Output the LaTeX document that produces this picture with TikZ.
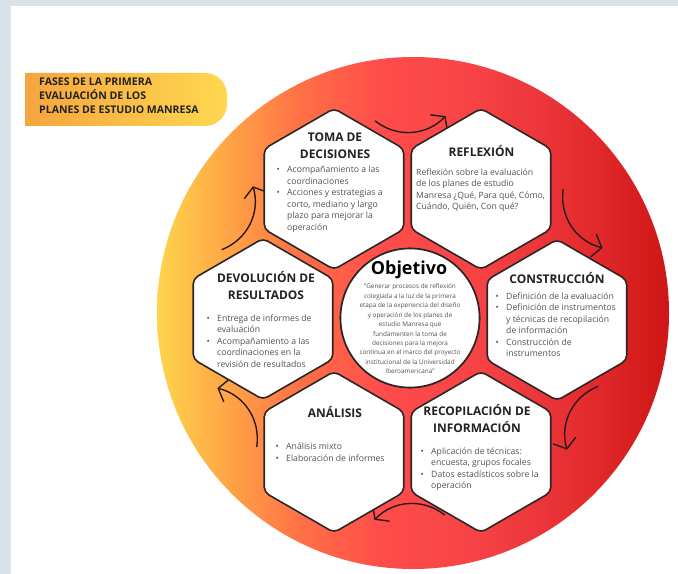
\documentclass[tikz,border=0pt]{standalone}
\usepackage{fontspec}
\setmainfont{Open Sans}
\usetikzlibrary{shapes.geometric,arrows.meta,calc}
\definecolor{bgband}{HTML}{DAE2E9}
\definecolor{g0}{HTML}{FFD54C}
\definecolor{g1}{HTML}{FFA446}
\definecolor{g2}{HTML}{FF7046}
\definecolor{g3}{HTML}{FF4D4B}
\definecolor{g4}{HTML}{F64245}
\definecolor{g5}{HTML}{E52D30}
\definecolor{g6}{HTML}{CE1616}
\definecolor{lab1}{HTML}{F59A3A}
\definecolor{lab2}{HTML}{FFD750}
\definecolor{edgec}{HTML}{2D2626}
\definecolor{arrc}{HTML}{2B1A1A}
\definecolor{ttlc}{HTML}{222222}
\definecolor{bodyc}{HTML}{525252}
\pgfdeclarehorizontalshading{ringsh}{100bp}{color(0bp)=(g0); color(25bp)=(g0); color(32bp)=(g1); color(39bp)=(g2); color(46.8bp)=(g3); color(56.6bp)=(g4); color(66.4bp)=(g5); color(75bp)=(g6); color(100bp)=(g6)}
\newcommand\ctab[1]{\begin{tabular}[t]{@{}c@{}}#1\end{tabular}}
\newcommand\ltab[1]{\begin{tabular}[t]{@{}l@{}}#1\end{tabular}}
\newcommand\hbu{\makebox[10.5bp][l]{•}}
\newcommand\hin{\hspace*{10.5bp}}
\begin{document}
\begin{tikzpicture}[x=1bp,y=-1bp,
  hexa/.style={regular polygon, regular polygon sides=6, shape border rotate=30,
    minimum size=161bp, inner sep=0pt, draw=edgec, line width=1.6bp, fill=white,
    rounded corners=5bp},
  objc/.style={circle, minimum size=139bp, inner sep=0pt, draw=edgec, line width=1.6bp, fill=white},
  ttl/.style={inner sep=0pt, anchor=base, text=ttlc, font=\bfseries\fontsize{12}{16.8}\selectfont},
  bodyt/.style={inner sep=0pt, anchor=base west, text=bodyc, font=\fontsize{8.7}{11.6}\selectfont},
  labt/.style={inner sep=0pt, anchor=base west, text=ttlc, font=\bfseries\fontsize{10.6}{14}\selectfont},
  flowarr/.style={draw=arrc, line width=1.4bp, line cap=round, -{Straight Barb[length=8.5bp,width=23bp,line cap=round]}}
]
\useasboundingbox (0,0) rectangle (678,574);
\fill[bgband] (0,0) rectangle (678,574);
\fill[white] (11,6) rectangle (678,574);
% title label
\begin{scope}
  \clip (25,60) rectangle (240,140);
  \shade[left color=lab1, right color=lab2, rounded corners=22bp] (-19,73) rectangle (227,126);
\end{scope}
\node[labt] (lab) at (39,85.8) {\ltab{FASES DE LA PRIMERA\\ EVALUACIÓN DE LOS\\ PLANES DE ESTUDIO MANRESA}};
% ring
\shade[shading=ringsh] (413,313) circle[radius=256];
% centre
\node[objc] (obj) at (410,318) {};
% arrows (clockwise)
\coordinate (a1s) at ($(obj.center)+(-100:200)$);
\coordinate (a1e) at ($(obj.center)+(-80:205)$);
\coordinate (a2s) at ($(obj.center)+(-40:200)$);
\coordinate (a2e) at ($(obj.center)+(-20:205)$);
\coordinate (a3s) at ($(obj.center)+(20:200)$);
\coordinate (a3e) at ($(obj.center)+(40:205)$);
\coordinate (a4s) at ($(obj.center)+(80:200)$);
\coordinate (a4e) at ($(obj.center)+(100:205)$);
\coordinate (a5s) at ($(obj.center)+(140:200)$);
\coordinate (a5e) at ($(obj.center)+(160:205)$);
\coordinate (a6s) at ($(obj.center)+(-160:200)$);
\coordinate (a6e) at ($(obj.center)+(-140:205)$);
\foreach \i in {1,...,6}{\draw[flowarr] (a\i s) to[bend right=42] (a\i e);}
% hexagons
\node[hexa] (hT) at (334,189) {};
\node[hexa] (hR) at (481,189) {};
\node[hexa] (hD) at (263,319) {};
\node[hexa] (hC) at (557,320) {};
\node[hexa] (hA) at (334,452) {};
\node[hexa] (hI) at (481,452) {};
\node[objc] (obj2) at (410,318) {};
% texts
\node[ttl] (tT) at (335,141.5) {\ctab{TOMA DE\\ DECISIONES}};
\node[bodyt] (bT) at (276.5,172.5) {\ltab{\hbu Acompañamiento a las\\ \hin coordinaciones\\ \hbu Acciones y estrategias a\\ \hin corto, mediano y largo\\ \hin plazo para mejorar la\\ \hin operación}};
\node[ttl] (tR) at (481.5,156.3) {REFLEXIÓN};
\node[bodyt] (bR) at (416,175.2) {\ltab{Reflexión sobre la evaluación\\ de los planes de estudio\\ Manresa ¿Qué, Para qué, Cómo,\\ Cuándo, Quién, Con qué?}};
\node[ttl] (tD) at (266,282.3) {\ctab{DEVOLUCIÓN DE\\ RESULTADOS}};
\node[bodyt] (bD) at (206.5,321.2) {\ltab{\hbu Entrega de informes de\\ \hin evaluación\\ \hbu Acompañamiento a las\\ \hin coordinaciones en la\\ \hin revisión de resultados}};
\node[ttl] (tC) at (557,283.3) {CONSTRUCCIÓN};
\node[bodyt] (bC) at (495.5,299.2) {\ltab{\hbu Definición de la evaluación\\ \hbu Definición de instrumentos\\ \hin y técnicas de recopilación\\ \hin de información\\ \hbu Construcción de\\ \hin instrumentos}};
\node[ttl] (tA) at (335,417.3) {ANÁLISIS};
\node[bodyt] (bA) at (275.5,449.5) {\ltab{\hbu Análisis mixto\\ \hbu Elaboración de informes}};
\node[ttl] (tI) at (477,415.3) {\ctab{RECOPILACIÓN DE\\ INFORMACIÓN}};
\node[bodyt] (bI) at (420.5,454.2) {\ltab{\hbu Aplicación de técnicas:\\ \hin encuesta, grupos focales\\ \hbu Datos estadísticos sobre la\\ \hin operación}};
\node[inner sep=0pt, anchor=base, text=black, font=\bfseries\fontsize{18}{20}\selectfont] (tO) at (409,274.4) {Objetivo};
\node[inner sep=0pt, anchor=base, text=bodyc, font=\fontsize{6.4}{9.5}\selectfont] (bO) at (410,288.7) {\ctab{"Generar procesos de reflexión\\ colegiada a la luz de la primera\\ etapa de la experiencia del diseño\\ y operación de los planes de\\ estudio Manresa que\\ fundamenten la toma de\\ decisiones para la mejora\\ continua en el marco del proyecto\\ institucional de la Universidad\\ Iberoamericana"}};
\end{tikzpicture}
\end{document}
